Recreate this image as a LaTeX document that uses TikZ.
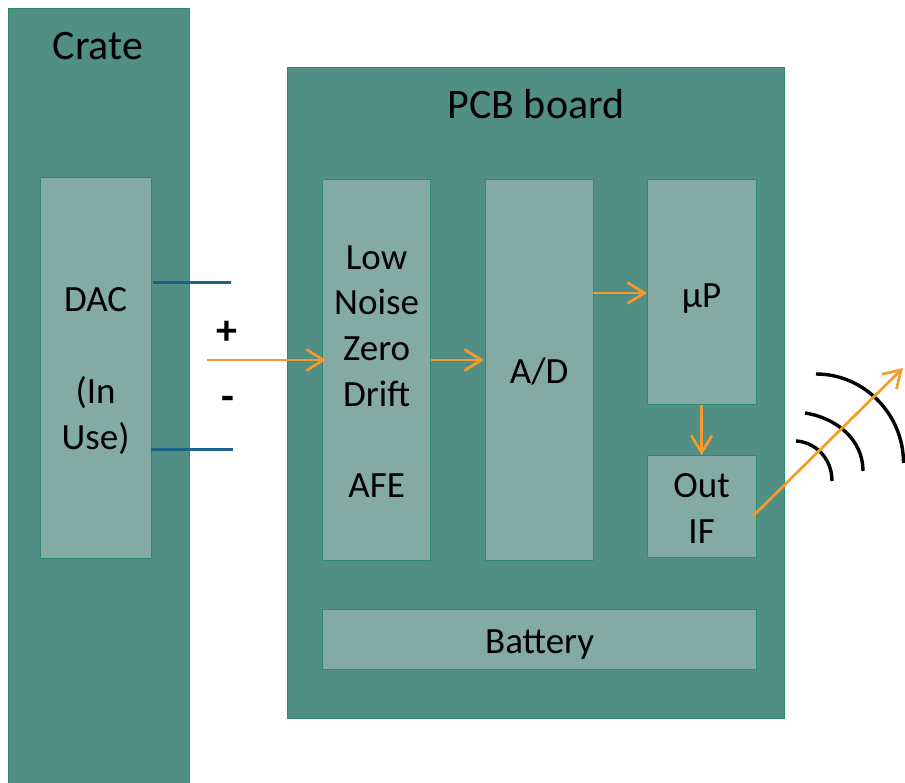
\documentclass[tikz,border=0pt]{standalone}
\usepackage{fontspec}
\setmainfont{Carlito}
\usetikzlibrary{arrows.meta,positioning}
\definecolor{outerfill}{HTML}{518F85}
\definecolor{innerfill}{HTML}{83ABA3}
\definecolor{edgegreen}{HTML}{2E8B6E}
\definecolor{wireblue}{HTML}{1F6287}
\definecolor{sigorange}{HTML}{F79A2E}
\tikzset{
  x=1pt,y=-1pt,
  outerbox/.style={draw=edgegreen,line width=1.2pt,fill=outerfill,anchor=north west,inner sep=0pt},
  innerbox/.style={draw=edgegreen,line width=1.2pt,fill=innerfill,anchor=north west,inner sep=0pt},
  boxtext/.style={inner sep=0pt,align=center,text=black,font=\fontsize{37}{45.7}\selectfont},
  titletext/.style={inner sep=0pt,font=\fontsize{42}{45}\selectfont,text=black},
  signtext/.style={inner sep=0pt,font=\bfseries\fontsize{42}{42}\selectfont,text=black},
  sigline/.style={draw=sigorange,line width=2.7pt,-{Straight Barb[length=17pt,width=21pt,line width=2.7pt]}},
  wire/.style={draw=wireblue,line width=3.4pt},
  wave/.style={draw=black,line width=3.4pt},
}
\begin{document}
\begin{tikzpicture}
\useasboundingbox (0,0) rectangle (905,783);
\clip (0,0) rectangle (905,783);
% large panels
\node[outerbox,minimum width=181pt,minimum height=790pt] (crate) at (7.5,8) {};
\node[outerbox,minimum width=497pt,minimum height=651pt] (pcb) at (287,67) {};
\node[titletext] (cratelabel) at (98,46) {Crate};
\node[titletext] (pcblabel) at (536,104) {PCB board};
% inner blocks
\node[innerbox,minimum width=111pt,minimum height=381pt,label={[boxtext,yshift=-3pt]center:{DAC\\\mbox{}\\(In\\Use)}}] (dac) at (39.5,177) {};
\node[innerbox,minimum width=108pt,minimum height=381pt,label={[boxtext,yshift=-1.5pt]center:{Low\\Noise\\Zero\\Drift\\\mbox{}\\AFE}}] (afe) at (322,179) {};
\node[innerbox,minimum width=108pt,minimum height=381pt,label={[boxtext,yshift=-1pt]center:{A/D}}] (ad) at (484.5,179) {};
\node[innerbox,minimum width=109pt,minimum height=225pt,label={[boxtext,yshift=-7pt]center:{µP}}] (up) at (646.5,179) {};
\node[innerbox,minimum width=109pt,minimum height=102pt,label={[boxtext,yshift=-2pt]center:{Out\\IF}}] (out) at (646.5,455) {};
\node[innerbox,minimum width=434pt,minimum height=60pt,label={[boxtext,yshift=-5pt]center:{Battery}}] (bat) at (322,609) {};
% DAC output terminals
\coordinate (wpa) at (153,282.3);
\coordinate (wpb) at (231,282.3);
\coordinate (wma) at (151,449.5);
\coordinate (wmb) at (233,449.5);
\draw[wire] (wpa) -- (wpb);
\draw[wire] (wma) -- (wmb);
\node[signtext] (plus) at (227,333) {+};
\node[signtext] (minus) at (228,403) {-};
% signal path
\coordinate (insig) at (207,360);
\coordinate (afein) at (326,360);
\coordinate (afeout) at (431,360);
\coordinate (adin) at (484,360);
\coordinate (adout) at (593,293);
\coordinate (upin) at (647,293);
\coordinate (wifi) at (903,368);
\coordinate (outb) at (753,516);
\draw[sigline] (insig) -- (afein);
\draw[sigline] (afeout) -- (adin);
\draw[sigline] (adout) -- (upin);
\draw[sigline] (up.south) -- (out.north);
% radio waves
\draw[wave] (816,374) .. controls (864,374) and (903.5,414) .. (903.5,463);
\draw[wave] (805,413) .. controls (837,418) and (863,440) .. (863,471);
\draw[wave] (796,441) .. controls (815,442) and (832,458) .. (832,481);
\draw[sigline] (outb) -- (wifi);
\end{tikzpicture}
\end{document}
